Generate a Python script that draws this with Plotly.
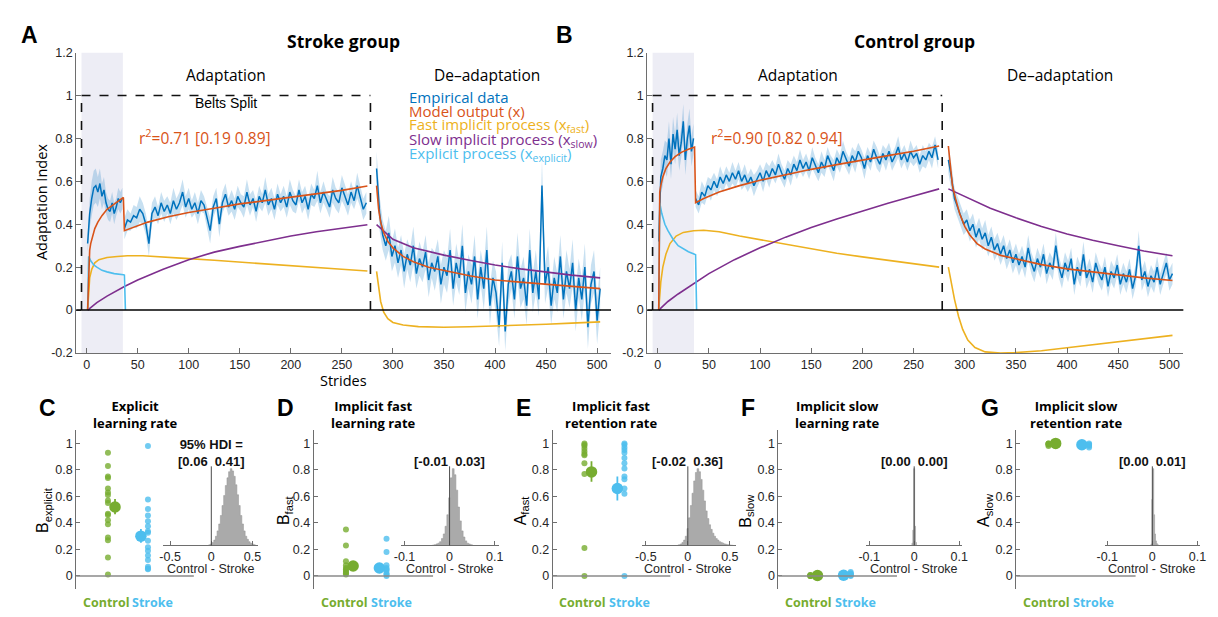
import plotly.graph_objects as go

W, H = 1218, 617
BLUE = '#0072BD'; ORANGE = '#D95319'; YELLOW = '#EDB120'; PURPLE = '#7E2F8E'
CYAN = '#4DBEEE'; GREEN = '#77AC30'
BAND = 'rgba(0,114,189,0.22)'
AX = '#6e6e6e'
HELV = 'Liberation Sans, Arial, sans-serif'
LUC = 'Open Sans, DejaVu Sans, sans-serif'

# ------------------------------------------------------------------ top panels: strides
stride_adapt1 = list(range(1, 36, 2))
stride_adapt2 = list(range(37, 275, 3))
stride_deadapt = list(range(284, 504, 3))
belts_split_start, belts_split_end, early_end = -5, 278, 35.5

# ---------------- Stroke group: empirical mean and SE
stroke_adapt1 = [0.31, 0.45, 0.52, 0.57, 0.58, 0.55, 0.59, 0.53, 0.56, 0.50, 0.47, 0.46, 0.50, 0.45, 0.48, 0.52, 0.50, 0.52]
stroke_adapt1_se = [0.04, 0.07, 0.08, 0.08, 0.08, 0.07, 0.07, 0.06, 0.06, 0.05, 0.05, 0.05, 0.05, 0.05, 0.04, 0.05, 0.05, 0.05]
stroke_adapt2 = [0.38, 0.42, 0.41, 0.44, 0.43, 0.47, 0.45, 0.40, 0.31, 0.45,
                 0.48, 0.44, 0.50, 0.46, 0.49, 0.45, 0.51, 0.47, 0.50, 0.55,
                 0.48, 0.52, 0.47, 0.50, 0.45, 0.51, 0.49, 0.43, 0.37, 0.48,
                 0.52, 0.40, 0.50, 0.54, 0.48, 0.51, 0.47, 0.53, 0.50, 0.48,
                 0.55, 0.49, 0.52, 0.46, 0.53, 0.50, 0.56, 0.49, 0.52, 0.47,
                 0.54, 0.50, 0.53, 0.48, 0.55, 0.51, 0.49, 0.56, 0.50, 0.53,
                 0.47, 0.54, 0.52, 0.58, 0.50, 0.55, 0.51, 0.48, 0.56, 0.52,
                 0.50, 0.57, 0.53, 0.49, 0.55, 0.51, 0.58, 0.53, 0.47, 0.50]
stroke_adapt2_se = [0.05, 0.05, 0.04, 0.05, 0.05, 0.06, 0.05, 0.05, 0.06, 0.05,
                    0.05, 0.04, 0.05, 0.05, 0.04, 0.05, 0.06, 0.05, 0.05, 0.06,
                    0.05, 0.05, 0.04, 0.05, 0.05, 0.05, 0.04, 0.05, 0.06, 0.05,
                    0.05, 0.06, 0.05, 0.05, 0.04, 0.05, 0.05, 0.05, 0.04, 0.05,
                    0.06, 0.05, 0.04, 0.05, 0.05, 0.04, 0.06, 0.05, 0.05, 0.05,
                    0.05, 0.04, 0.05, 0.05, 0.06, 0.05, 0.04, 0.05, 0.05, 0.05,
                    0.05, 0.05, 0.04, 0.07, 0.05, 0.05, 0.04, 0.05, 0.06, 0.05,
                    0.05, 0.06, 0.05, 0.05, 0.05, 0.04, 0.06, 0.05, 0.05, 0.05]
stroke_deadapt = [0.66, 0.45, 0.35, 0.30, 0.36, 0.25, 0.30, 0.22, 0.28, 0.18,
                  0.26, 0.21, 0.30, 0.17, 0.24, 0.20, 0.27, 0.14, 0.22, 0.18,
                  0.25, 0.12, 0.20, 0.16, 0.28, 0.10, 0.22, 0.15, 0.30, 0.08,
                  0.18, 0.12, 0.25, 0.05, 0.20, 0.10, 0.28, 0.02, 0.15, 0.08,
                  -0.08, 0.22, -0.10, 0.12, 0.18, 0.05, 0.25, 0.10, 0.15, 0.02,
                  0.28, 0.08, 0.18, 0.05, 0.58, 0.12, 0.20, 0.02, 0.15, 0.08,
                  0.25, 0.05, 0.18, 0.10, 0.22, 0.00, 0.15, 0.05, 0.20, -0.08,
                  0.12, 0.18, -0.05, 0.10]
stroke_deadapt_se = [0.08, 0.08, 0.07, 0.07, 0.08, 0.07, 0.08, 0.07, 0.07, 0.08,
                     0.07, 0.08, 0.09, 0.07, 0.08, 0.07, 0.08, 0.08, 0.07, 0.09,
                     0.08, 0.09, 0.08, 0.08, 0.10, 0.08, 0.09, 0.08, 0.10, 0.09,
                     0.08, 0.09, 0.10, 0.09, 0.08, 0.10, 0.11, 0.09, 0.08, 0.10,
                     0.09, 0.10, 0.09, 0.10, 0.08, 0.09, 0.11, 0.09, 0.10, 0.09,
                     0.10, 0.09, 0.10, 0.08, 0.12, 0.09, 0.10, 0.09, 0.10, 0.09,
                     0.10, 0.09, 0.10, 0.09, 0.11, 0.10, 0.09, 0.10, 0.11, 0.10,
                     0.09, 0.10, 0.11, 0.10]

# ---------------- Stroke group: model
stroke_model_adapt_x = [1, 2, 3, 4, 6, 8, 11, 15, 20, 26, 32, 36, 37, 45, 60, 80, 100, 125, 150, 175, 200, 225, 250, 275]
stroke_model_adapt_y = [0, 0.22, 0.28, 0.31, 0.35, 0.38, 0.41, 0.44, 0.47, 0.49, 0.51, 0.525, 0.37, 0.385, 0.41, 0.435, 0.455, 0.475, 0.495, 0.51, 0.525, 0.54, 0.558, 0.578]
stroke_model_deadapt_x = [284, 286, 288, 291, 295, 300, 310, 320, 335, 350, 375, 400, 425, 450, 475, 503]
stroke_model_deadapt_y = [0.58, 0.47, 0.41, 0.36, 0.32, 0.29, 0.25, 0.225, 0.2, 0.185, 0.16, 0.14, 0.13, 0.12, 0.11, 0.1]
stroke_fast_adapt_x = [1, 2, 3, 5, 8, 12, 20, 30, 40, 55, 75, 100, 125, 150, 175, 200, 225, 250, 275]
stroke_fast_adapt_y = [0, 0.1, 0.15, 0.19, 0.22, 0.235, 0.245, 0.25, 0.253, 0.253, 0.248, 0.24, 0.232, 0.223, 0.215, 0.207, 0.199, 0.19, 0.182]
stroke_fast_deadapt_x = [284, 286, 288, 291, 295, 300, 310, 325, 350, 375, 400, 425, 450, 475, 503]
stroke_fast_deadapt_y = [0.18, 0.1, 0.04, -0.01, -0.04, -0.058, -0.07, -0.077, -0.08, -0.078, -0.075, -0.07, -0.066, -0.061, -0.055]
stroke_slow_adapt_x = [1, 10, 20, 37, 50, 75, 100, 125, 150, 175, 200, 225, 250, 275]
stroke_slow_adapt_y = [0, 0.035, 0.065, 0.11, 0.14, 0.19, 0.235, 0.27, 0.297, 0.322, 0.345, 0.365, 0.383, 0.398]
stroke_slow_deadapt_x = [284, 300, 320, 350, 375, 400, 425, 450, 475, 503]
stroke_slow_deadapt_y = [0.398, 0.33, 0.29, 0.256, 0.232, 0.21, 0.192, 0.177, 0.163, 0.15]
stroke_explicit_x = [1, 2, 4, 7, 10, 15, 20, 27, 36, 37, 38]
stroke_explicit_y = [0, 0.25, 0.23, 0.21, 0.2, 0.185, 0.178, 0.17, 0.165, 0.163, 0]

# ---------------- Control group: empirical mean and SE
control_adapt1 = [0.32, 0.62, 0.66, 0.72, 0.70, 0.80, 0.68, 0.82, 0.75, 0.84, 0.72, 0.78, 0.88, 0.70, 0.80, 0.86, 0.74, 0.80]
control_adapt1_se = [0.05, 0.08, 0.08, 0.07, 0.08, 0.08, 0.07, 0.08, 0.07, 0.08, 0.07, 0.07, 0.08, 0.07, 0.07, 0.08, 0.07, 0.07]
control_adapt2 = [0.52, 0.49, 0.55, 0.53, 0.58, 0.56, 0.60, 0.57, 0.62, 0.59,
                  0.63, 0.60, 0.64, 0.61, 0.65, 0.60, 0.63, 0.59, 0.62, 0.58,
                  0.61, 0.64, 0.60, 0.65, 0.62, 0.66, 0.63, 0.68, 0.64, 0.61,
                  0.66, 0.63, 0.68, 0.65, 0.70, 0.66, 0.69, 0.65, 0.71, 0.67,
                  0.64, 0.69, 0.66, 0.72, 0.68, 0.65, 0.71, 0.68, 0.74, 0.70,
                  0.67, 0.72, 0.69, 0.74, 0.71, 0.66, 0.72, 0.69, 0.75, 0.71,
                  0.68, 0.73, 0.70, 0.74, 0.69, 0.72, 0.76, 0.70, 0.73, 0.69,
                  0.74, 0.71, 0.73, 0.68, 0.72, 0.70, 0.74, 0.71, 0.77, 0.70]
control_adapt2_se = [0.04, 0.04, 0.05, 0.04, 0.04, 0.05, 0.04, 0.04, 0.05, 0.04,
                     0.04, 0.04, 0.05, 0.04, 0.04, 0.04, 0.05, 0.04, 0.04, 0.05,
                     0.04, 0.04, 0.05, 0.04, 0.05, 0.04, 0.04, 0.05, 0.04, 0.04,
                     0.04, 0.05, 0.04, 0.04, 0.05, 0.04, 0.04, 0.04, 0.05, 0.04,
                     0.04, 0.05, 0.04, 0.04, 0.04, 0.05, 0.04, 0.04, 0.05, 0.04,
                     0.04, 0.04, 0.05, 0.04, 0.04, 0.05, 0.04, 0.04, 0.04, 0.05,
                     0.04, 0.04, 0.05, 0.04, 0.04, 0.04, 0.05, 0.04, 0.04, 0.04,
                     0.05, 0.04, 0.04, 0.04, 0.05, 0.04, 0.04, 0.05, 0.04, 0.04]
control_deadapt = [0.70, 0.62, 0.52, 0.48, 0.44, 0.40, 0.42, 0.37, 0.40, 0.34,
                   0.38, 0.33, 0.36, 0.30, 0.34, 0.28, 0.31, 0.26, 0.30, 0.24,
                   0.28, 0.22, 0.26, 0.21, 0.25, 0.20, 0.29, 0.22, 0.18, 0.24,
                   0.20, 0.26, 0.17, 0.22, 0.19, 0.30, 0.20, 0.15, 0.22, 0.18,
                   0.24, 0.12, 0.20, 0.16, 0.26, 0.15, 0.19, 0.13, 0.22, 0.17,
                   0.14, 0.20, 0.11, 0.18, 0.15, 0.21, 0.12, 0.17, 0.13, 0.19,
                   0.10, 0.16, 0.30, 0.14, 0.18, 0.11, 0.16, 0.13, 0.20, 0.12,
                   0.17, 0.22, 0.14, 0.17]
control_deadapt_se = [0.06, 0.06, 0.05, 0.05, 0.05, 0.05, 0.05, 0.05, 0.05, 0.05,
                      0.05, 0.05, 0.06, 0.05, 0.05, 0.05, 0.05, 0.05, 0.05, 0.05,
                      0.05, 0.05, 0.05, 0.05, 0.05, 0.05, 0.06, 0.05, 0.05, 0.05,
                      0.05, 0.05, 0.05, 0.05, 0.05, 0.06, 0.05, 0.05, 0.05, 0.05,
                      0.05, 0.05, 0.05, 0.05, 0.06, 0.05, 0.05, 0.05, 0.05, 0.05,
                      0.05, 0.05, 0.05, 0.05, 0.05, 0.05, 0.05, 0.05, 0.05, 0.05,
                      0.05, 0.05, 0.07, 0.05, 0.05, 0.05, 0.05, 0.05, 0.05, 0.05,
                      0.05, 0.05, 0.05, 0.05]

# ---------------- Control group: model
control_model_adapt_x = [1, 2, 3, 5, 8, 12, 17, 23, 30, 36, 37, 45, 60, 80, 100, 125, 150, 175, 200, 225, 250, 275]
control_model_adapt_y = [0, 0.55, 0.58, 0.62, 0.66, 0.69, 0.715, 0.735, 0.75, 0.76, 0.5, 0.52, 0.55, 0.58, 0.605, 0.632, 0.656, 0.678, 0.7, 0.72, 0.74, 0.765]
control_model_deadapt_x = [284, 286, 288, 291, 295, 300, 305, 312, 320, 335, 350, 375, 400, 425, 450, 475, 503]
control_model_deadapt_y = [0.765, 0.66, 0.58, 0.52, 0.45, 0.39, 0.35, 0.31, 0.285, 0.255, 0.238, 0.212, 0.192, 0.177, 0.163, 0.15, 0.138]
control_fast_adapt_x = [1, 2, 3, 5, 8, 12, 18, 25, 35, 45, 60, 80, 100, 125, 150, 175, 200, 225, 250, 275]
control_fast_adapt_y = [0, 0.08, 0.13, 0.2, 0.26, 0.31, 0.345, 0.362, 0.37, 0.372, 0.365, 0.345, 0.328, 0.305, 0.285, 0.265, 0.248, 0.232, 0.216, 0.2]
control_fast_deadapt_x = [284, 287, 290, 294, 298, 303, 310, 320, 335, 350, 375, 400, 425, 450, 475, 503]
control_fast_deadapt_y = [0.2, 0.12, 0.05, -0.03, -0.09, -0.14, -0.175, -0.195, -0.2, -0.198, -0.19, -0.176, -0.162, -0.148, -0.134, -0.118]
control_slow_adapt_x = [1, 10, 20, 37, 50, 75, 100, 125, 150, 175, 200, 225, 250, 275]
control_slow_adapt_y = [0, 0.04, 0.075, 0.13, 0.17, 0.235, 0.29, 0.34, 0.385, 0.425, 0.462, 0.498, 0.532, 0.565]
control_slow_deadapt_x = [284, 300, 325, 350, 375, 400, 425, 450, 475, 503]
control_slow_deadapt_y = [0.565, 0.53, 0.475, 0.43, 0.39, 0.355, 0.325, 0.3, 0.275, 0.253]
control_explicit_x = [1, 2, 4, 7, 10, 15, 20, 25, 30, 36, 37, 38]
control_explicit_y = [0, 0.5, 0.45, 0.4, 0.37, 0.33, 0.3, 0.285, 0.272, 0.26, 0.258, 0]

# ------------------------------------------------------------------ bottom panels: parameters
c_control = [0.93, 0.83, 0.75, 0.74, 0.66, 0.63, 0.61, 0.57, 0.55, 0.47, 0.46, 0.42, 0.39, 0.29, 0.27, 0.14, 0.01]
c_stroke = [0.98, 0.576, 0.505, 0.456, 0.412, 0.375, 0.338, 0.326, 0.265, 0.216, 0.19, 0.155, 0.12, 0.07, 0.056, 0.05]
c_means = [0.52, 0.30]; c_err_hi = [0.06, 0.055]; c_err_lo = [0.055, 0.05]
d_control = [0.35, 0.23, 0.11, 0.08, 0.06, 0.05, 0.04, 0.03, 0.02, 0.01]
d_stroke = [0.28, 0.18, 0.08, 0.06, 0.05, 0.04, 0.02, 0.01, 0.0]
d_means = [0.075, 0.06]; d_err_hi = [0.012, 0.012]; d_err_lo = [0.012, 0.012]
e_control = [1.0, 0.99, 0.98, 0.96, 0.94, 0.92, 0.91, 0.85, 0.77, 0.21, 0.0]
e_stroke = [1.0, 0.99, 0.97, 0.95, 0.93, 0.89, 0.85, 0.81, 0.75, 0.73, 0.66, 0.62, 0.0]
e_means = [0.785, 0.66]; e_err_hi = [0.08, 0.09]; e_err_lo = [0.075, 0.09]
f_control = [0.0, 0.003, 0.005, 0.008, 0.0, 0.002]
f_stroke = [0.0, 0.01, 0.02, 0.03, 0.005, 0.015]
f_means = [0.003, 0.005]; f_err_hi = [0.003, 0.003]; f_err_lo = [0.003, 0.003]
g_control = [0.99, 1.0, 0.98, 0.995, 1.0]
g_stroke = [0.98, 0.99, 1.0, 0.97, 0.99]
g_means = [1.0, 0.99]; g_err_hi = [0.003, 0.004]; g_err_lo = [0.003, 0.004]

# posterior difference histograms (Control - Stroke)
hist_c_x = [-0.04, -0.02, 0.0, 0.02, 0.04, 0.06, 0.08, 0.10, 0.12, 0.14, 0.16, 0.18, 0.20, 0.22, 0.24,
            0.26, 0.28, 0.30, 0.32, 0.34, 0.36, 0.38, 0.40, 0.42, 0.44, 0.46, 0.48, 0.50, 0.52, 0.54]
hist_c_y = [0, 1, 2, 4, 7, 12, 19, 28, 39, 52, 65, 78, 88, 96, 100, 97, 90, 79, 66, 52, 39, 28, 19, 12, 8, 5, 3, 2, 1, 0.5]
hist_d_x = [-0.04, -0.036, -0.032, -0.028, -0.024, -0.02, -0.016, -0.012, -0.008, -0.004, 0.0, 0.004,
            0.008, 0.012, 0.016, 0.02, 0.024, 0.028, 0.032, 0.036, 0.04, 0.044, 0.048, 0.052]
hist_d_y = [0, 0.5, 1, 2, 3, 5, 9, 15, 25, 40, 62, 88, 100, 92, 72, 50, 32, 19, 11, 6, 3, 2, 1, 0.5]
hist_e_x = [-0.12, -0.10, -0.08, -0.06, -0.04, -0.02, 0.0, 0.02, 0.04, 0.06, 0.08, 0.10, 0.12, 0.14, 0.16, 0.18, 0.20,
            0.22, 0.24, 0.26, 0.28, 0.30, 0.32, 0.34, 0.36, 0.38, 0.40, 0.42, 0.44, 0.46, 0.48, 0.50, 0.52, 0.54]
hist_e_y = [0.5, 1, 2, 4, 7, 12, 22, 36, 52, 68, 84, 95, 100, 96, 86, 72, 58, 45, 35, 27, 21, 16, 12, 9, 7, 5, 4, 3, 2, 1.5, 1, 0.7, 0.4, 0.2]
hist_f_x = [-0.006, -0.004, -0.002, 0.0, 0.002, 0.004, 0.006]
hist_f_y = [0, 3, 20, 100, 25, 4, 0.5]
hist_g_x = [-0.004, -0.002, 0.0, 0.002, 0.004, 0.006, 0.008, 0.010, 0.012, 0.014]
hist_g_y = [0, 2, 60, 100, 40, 15, 6, 2.5, 1, 0.3]

group_labels = ['Control', 'Stroke']
y_ticks_top = [-0.2, 0, 0.2, 0.4, 0.6, 0.8, 1, 1.2]
y_ticks_top_text = ['-0.2', '0', '0.2', '0.4', '0.6', '0.8', '1', '1.2']
x_ticks_top = list(range(0, 501, 50))
y_ticks_bot = [0, 0.2, 0.4, 0.6, 0.8, 1]
y_ticks_bot_text = ['0', '0.2', '0.4', '0.6', '0.8', '1']

# ------------------------------------------------------------------ figure
fig = go.Figure()
annotations = []
shapes = []
layout = dict(width=W, height=H, margin=dict(l=0, r=0, t=0, b=0), paper_bgcolor='white',
              plot_bgcolor='white', showlegend=False)


def fx(p):
    return p / W


def fy(p):
    return 1 - p / H


def add_text(text, x, y, size, color='#000000', family=LUC, bold=False, xanchor='center', angle=0):
    if bold:
        text = '<b>' + text + '</b>'
    annotations.append(dict(text=text, x=fx(x), y=fy(y), xref='paper', yref='paper', showarrow=False,
                            xanchor=xanchor, yanchor='middle', textangle=angle,
                            font=dict(size=size, color=color, family=family)))


tickfont = dict(size=12.5, color='#262626', family=HELV)


def axis_common():
    return dict(showline=True, linecolor=AX, linewidth=1, ticks='inside', ticklen=5, tickwidth=1,
                tickcolor=AX, showgrid=False, zeroline=False, tickfont=tickfont)


def line(xs, ys, color, xa, ya, width=1.6):
    fig.add_trace(go.Scatter(x=xs, y=ys, mode='lines', line=dict(color=color, width=width),
                             xaxis=xa, yaxis=ya, hoverinfo='skip'))


def top_panel(n, xdom, data):
    xa = 'x' if n == 1 else 'x%d' % n
    ya = 'y' if n == 1 else 'y%d' % n
    xk = 'xaxis' if n == 1 else 'xaxis%d' % n
    yk = 'yaxis' if n == 1 else 'yaxis%d' % n
    ax = axis_common()
    ax.update(domain=[fx(xdom[0]), fx(xdom[1])], range=[-10.2, 513.6], tickvals=x_ticks_top, anchor=ya)
    layout[xk] = ax
    ay = axis_common()
    ay.update(domain=[fy(354), fy(46.7)], range=[-0.2, 1.2], tickvals=y_ticks_top,
              ticktext=y_ticks_top_text, anchor=xa)
    layout[yk] = ay
    shapes.append(dict(type='rect', xref=xa, yref=ya + ' domain', x0=belts_split_start, x1=early_end,
                       y0=0, y1=1, fillcolor='#EDEDF5', line=dict(width=0), layer='below'))
    for xs, m, s in data['emp']:
        lo = [a - b for a, b in zip(m, s)]
        hi = [a + b for a, b in zip(m, s)]
        fig.add_trace(go.Scatter(x=xs, y=lo, mode='lines', line=dict(width=0, color=BAND),
                                 xaxis=xa, yaxis=ya, hoverinfo='skip'))
        fig.add_trace(go.Scatter(x=xs, y=hi, mode='lines', line=dict(width=0, color=BAND), fill='tonexty',
                                 fillcolor=BAND, xaxis=xa, yaxis=ya, hoverinfo='skip'))
    for xs, m, s in data['emp']:
        line(xs, m, BLUE, xa, ya, 1.5)
    for (xs, ys), col in data['model']:
        line(xs, ys, col, xa, ya, 1.6)
    dash = dict(color='#111111', width=1.6, dash='dash')
    shapes.append(dict(type='line', xref=xa, yref=ya, x0=belts_split_start, x1=belts_split_end, y0=1, y1=1, line=dash))
    shapes.append(dict(type='line', xref=xa, yref=ya, x0=belts_split_start, x1=belts_split_start, y0=0, y1=1, line=dash))
    shapes.append(dict(type='line', xref=xa, yref=ya, x0=belts_split_end, x1=belts_split_end, y0=0, y1=1, line=dash))
    shapes.append(dict(type='line', xref=xa + ' domain', yref=ya, x0=0, x1=1, y0=0, y1=0,
                       line=dict(color='#000000', width=1.4)))


stroke_data = dict(
    emp=[(stride_adapt1, stroke_adapt1, stroke_adapt1_se), (stride_adapt2, stroke_adapt2, stroke_adapt2_se),
         (stride_deadapt, stroke_deadapt, stroke_deadapt_se)],
    model=[((stroke_fast_adapt_x, stroke_fast_adapt_y), YELLOW), ((stroke_fast_deadapt_x, stroke_fast_deadapt_y), YELLOW),
           ((stroke_slow_adapt_x, stroke_slow_adapt_y), PURPLE), ((stroke_slow_deadapt_x, stroke_slow_deadapt_y), PURPLE),
           ((stroke_explicit_x, stroke_explicit_y), CYAN),
           ((stroke_model_adapt_x, stroke_model_adapt_y), ORANGE), ((stroke_model_deadapt_x, stroke_model_deadapt_y), ORANGE)])
control_data = dict(
    emp=[(stride_adapt1, control_adapt1, control_adapt1_se), (stride_adapt2, control_adapt2, control_adapt2_se),
         (stride_deadapt, control_deadapt, control_deadapt_se)],
    model=[((control_fast_adapt_x, control_fast_adapt_y), YELLOW), ((control_fast_deadapt_x, control_fast_deadapt_y), YELLOW),
           ((control_slow_adapt_x, control_slow_adapt_y), PURPLE), ((control_slow_deadapt_x, control_slow_deadapt_y), PURPLE),
           ((control_explicit_x, control_explicit_y), CYAN),
           ((control_model_adapt_x, control_model_adapt_y), ORANGE), ((control_model_deadapt_x, control_model_deadapt_y), ORANGE)])

top_panel(1, (69, 610), stroke_data)
top_panel(2, (646.7, 1189), control_data)

# top texts
add_text('A', 21.5, 29, 23, bold=True, family=HELV)
add_text('B', 563, 29, 23, bold=True, family=HELV)
add_text('Stroke group', 339, 35, 17.5, bold=True)
add_text('Control group', 917, 35, 17.5, bold=True)
for cx in (221, 799):
    add_text('Adaptation', cx, 70, 15.5)
for cx in (485, 1064):
    add_text('De\u2013adaptation', cx, 70, 15.5)
add_text('Belts Split', 221, 98, 14, family=HELV)
add_text('r<sup>2</sup>=0.71 [0.19 0.89]', 130, 133, 15.5, color=ORANGE, xanchor='left')
add_text('r<sup>2</sup>=0.90 [0.82 0.94]', 709, 133, 15.5, color=ORANGE, xanchor='left')
legend_items = [('Empirical data', BLUE), ('Model output (x)', ORANGE),
                ('Fast implicit process (x<sub>fast</sub>)', YELLOW),
                ('Slow implicit process (x<sub>slow</sub>)', PURPLE),
                ('Explicit process (x<sub>explicit</sub>)', CYAN)]
for i, (t, c) in enumerate(legend_items):
    add_text(t, 404, 92 + i * 14.6, 15, color=c, xanchor='left')
add_text('Adaptation Index', 34, 200, 14.5, angle=-90)
add_text('Strides', 339, 382, 14.5)

# ------------------------------------------------------------------ bottom panels
ctrl_pos, ctrl_mean_pos, strk_mean_pos, strk_pos = 0.27, 0.33, 0.55, 0.61
panels = [
    dict(letter='C', lx=40, title='Explicit<br>learning rate', ytitle='B<sub>explicit</sub>', ytx=36,
         dom=(69, 188), idom=(157.3, 253.3), irange=[-0.58, 0.571], iticks=[-0.5, 0, 0.5], itext=['-0.5', '0', '0.5'],
         ctrl=c_control, strk=c_stroke, means=c_means, hi=c_err_hi, lo=c_err_lo,
         hx=hist_c_x, hy=hist_c_y, hdi='95% HDI =<br>[0.06  0.41]'),
    dict(letter='D', lx=280.5, title='Implicit fast<br>learning rate', ytitle='B<sub>fast</sub>', ytx=280,
         dom=(309.3, 430), idom=(397.7, 496.7), irange=[-0.1075, 0.1096], iticks=[-0.1, 0, 0.1], itext=['-0.1', '0', '0.1'],
         ctrl=d_control, strk=d_stroke, means=d_means, hi=d_err_hi, lo=d_err_lo,
         hx=hist_d_x, hy=hist_d_y, hdi='[-0.01  0.03]'),
    dict(letter='E', lx=521.7, title='Implicit fast<br>retention rate', ytitle='A<sub>fast</sub>', ytx=519,
         dom=(551, 670), idom=(641, 736.7), irange=[-0.55, 0.576], iticks=[-0.5, 0, 0.5], itext=['-0.5', '0', '0.5'],
         ctrl=e_control, strk=e_stroke, means=e_means, hi=e_err_hi, lo=e_err_lo,
         hx=hist_e_x, hy=hist_e_y, hdi='[-0.02  0.36]'),
    dict(letter='F', lx=749, title='Implicit slow<br>learning rate', ytitle='B<sub>slow</sub>', ytx=747,
         dom=(779.3, 899.3), idom=(868, 965), irange=[-0.107, 0.106], iticks=[-0.1, 0, 0.1], itext=['-0.1', '0', '0.1'],
         ctrl=f_control, strk=f_stroke, means=f_means, hi=f_err_hi, lo=f_err_lo,
         hx=hist_f_x, hy=hist_f_y, hdi='[0.00  0.00]'),
    dict(letter='G', lx=993, title='Implicit slow<br>retention rate', ytitle='A<sub>slow</sub>', ytx=988,
         dom=(1020, 1140.7), idom=(1109.3, 1206), irange=[-0.106, 0.106], iticks=[-0.1, 0, 0.1], itext=['-0.1', '0', '0.1'],
         ctrl=g_control, strk=g_stroke, means=g_means, hi=g_err_hi, lo=g_err_lo,
         hx=hist_g_x, hy=hist_g_y, hdi='[0.00  0.01]'),
]

for i, p in enumerate(panels):
    n = 3 + i
    m = 8 + i
    xa, ya, xi, yi = 'x%d' % n, 'y%d' % n, 'x%d' % m, 'y%d' % m
    layout['xaxis%d' % n] = dict(domain=[fx(p['dom'][0]), fx(p['dom'][1])], range=[0, 1], visible=False, anchor=ya)
    ay = axis_common()
    ay.update(domain=[fy(595.7), fy(433)], range=[-0.1, 1.1], tickvals=y_ticks_bot, ticktext=y_ticks_bot_text,
              anchor=xa, ticklen=4)
    layout['yaxis%d' % n] = ay
    shapes.append(dict(type='line', xref=xa + ' domain', yref=ya, x0=0, x1=1, y0=0, y1=0,
                       line=dict(color='#8a8a8a', width=1.4)))
    fig.add_trace(go.Scatter(x=[ctrl_pos] * len(p['ctrl']), y=p['ctrl'], mode='markers',
                             marker=dict(size=6, color=GREEN, opacity=0.8, line=dict(width=0)),
                             xaxis=xa, yaxis=ya, hoverinfo='skip'))
    fig.add_trace(go.Scatter(x=[strk_pos] * len(p['strk']), y=p['strk'], mode='markers',
                             marker=dict(size=6, color=CYAN, opacity=0.8, line=dict(width=0)),
                             xaxis=xa, yaxis=ya, hoverinfo='skip'))
    for pos, mean, hi, lo, col in [(ctrl_mean_pos, p['means'][0], p['hi'][0], p['lo'][0], GREEN),
                                   (strk_mean_pos, p['means'][1], p['hi'][1], p['lo'][1], CYAN)]:
        fig.add_trace(go.Scatter(x=[pos], y=[mean], mode='markers',
                                 marker=dict(size=11.5, color=col, line=dict(width=0)),
                                 error_y=dict(type='data', symmetric=False, array=[hi], arrayminus=[lo],
                                              color=col, thickness=1.8, width=0),
                                 xaxis=xa, yaxis=ya, hoverinfo='skip'))
    ax = axis_common()
    ax.update(domain=[fx(p['idom'][0]), fx(p['idom'][1])], range=p['irange'], tickvals=p['iticks'],
              ticktext=p['itext'], anchor=yi, ticklen=4)
    layout['xaxis%d' % m] = ax
    layout['yaxis%d' % m] = dict(domain=[fy(551), fy(470)], range=[0, 103], visible=False, anchor=xi)
    fig.add_trace(go.Scatter(x=p['hx'], y=p['hy'], mode='lines', line=dict(shape='hvh', width=0.6, color='#9a9a9a'),
                             fill='tozeroy', fillcolor='#AAAAAA', xaxis=xi, yaxis=yi, hoverinfo='skip'))
    shapes.append(dict(type='line', xref=xi, yref=yi + ' domain', x0=0, x1=0, y0=0, y1=1,
                       line=dict(color='#4a4a4a', width=1)))
    add_text(p['letter'], p['lx'], 410.5, 23, bold=True, family=HELV)
    cx = (p['dom'][0] + p['dom'][1]) / 2
    add_text(p['title'], cx, 417, 13, bold=True)
    add_text(p['ytitle'], p['ytx'], 515, 16, family=HELV, angle=-90)
    for lab, pos, col in [(group_labels[0], 0.255, GREEN), (group_labels[1], 0.65, CYAN)]:
        annotations.append(dict(text='<b>' + lab + '</b>', x=pos, y=fy(609), xref=xa, yref='paper',
                                showarrow=False, xanchor='center', yanchor='middle',
                                font=dict(size=12.5, color=col, family=LUC)))
    hdi_y = 456 if '<br>' in p['hdi'] else 465
    annotations.append(dict(text='<b>' + p['hdi'] + '</b>', x=0, y=fy(hdi_y), xref=xi, yref='paper',
                            showarrow=False, xanchor='center', yanchor='middle',
                            font=dict(size=13, color='#111111', family=HELV)))
    annotations.append(dict(text='Control - Stroke', x=0, y=fy(575.5), xref=xi, yref='paper',
                            showarrow=False, xanchor='center', yanchor='middle',
                            font=dict(size=12.5, color='#262626', family=HELV)))

layout['annotations'] = annotations
layout['shapes'] = shapes
fig.update_layout(**layout)
fig.write_html('out.html', config={'displayModeBar': False},
               post_script="document.body.style.margin='0';document.body.style.padding='0';"
                           "document.documentElement.style.overflow='hidden';")
